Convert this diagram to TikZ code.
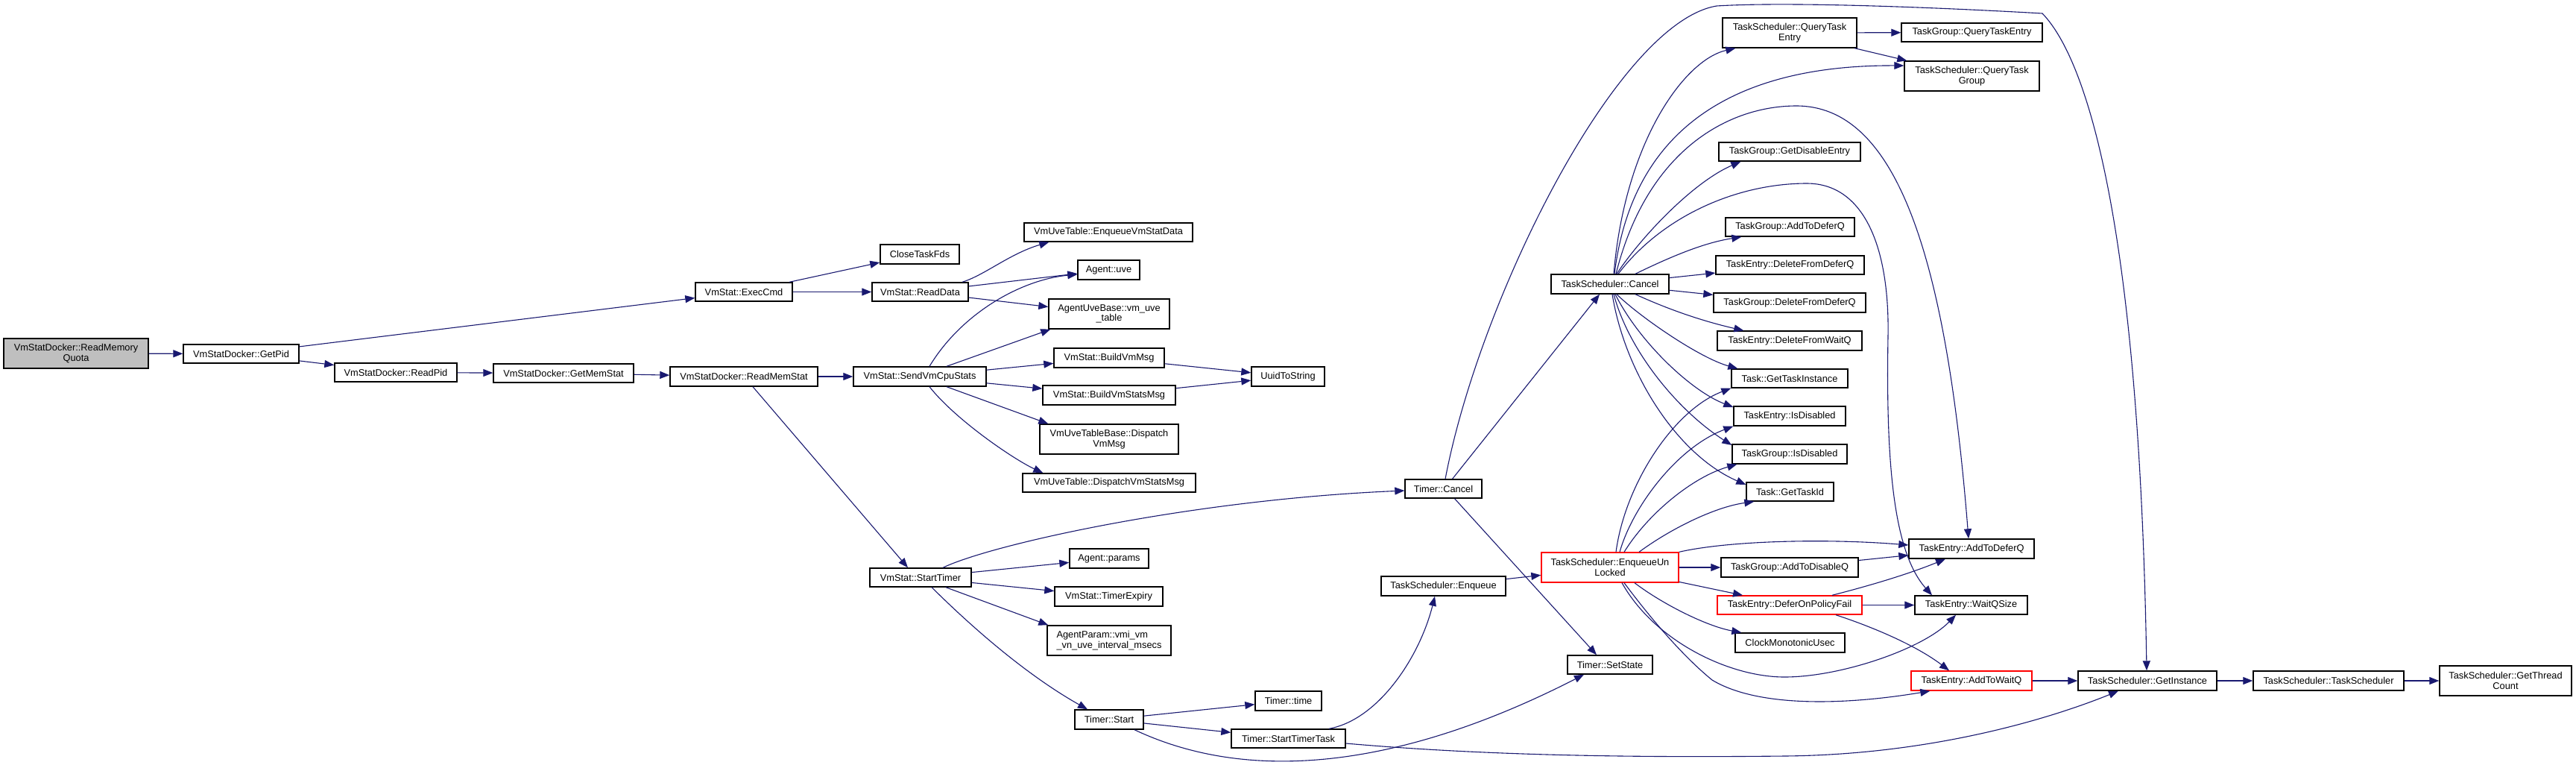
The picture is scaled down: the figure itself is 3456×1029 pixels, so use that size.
\documentclass[tikz,border=0pt]{standalone}
\usepackage{fontspec}
\setmainfont{Liberation Sans}
\usetikzlibrary{arrows.meta,calc}
\definecolor{edgec}{HTML}{191970}
\definecolor{grayfill}{HTML}{BFBFBF}
\newcommand\dxnode[7]{\node[box,#7,minimum width={(#4-#2)*0.5pt},minimum height={(#5-#3)*0.5pt}] (#1) at ({(#2+#4)/2},{(#3+#5)/2}) {#6};}
\begin{document}
\begin{tikzpicture}[x=0.5pt,y=-0.5pt,
  box/.style={draw=black,line width=0.7pt,fill=white,inner sep=0pt,align=center,font=\fontsize{6.4pt}{6.7pt}\selectfont},
  hl/.style={draw=red},
  root/.style={fill=grayfill},
  e/.style={draw=edgec,line width=0.55pt,-{Triangle[length=6.5pt,width=5pt]}}]
\fill[white] (0,0) rectangle (3456,1029);
\useasboundingbox (0,0) rectangle (3456,1029);
% nodes
\dxnode{rmq}{5}{454}{199}{494}{VmStatDocker::ReadMemory\\Quota}{root}
\dxnode{getpid}{246}{462}{401}{487}{VmStatDocker::GetPid}{}
\dxnode{readpid}{449}{487}{613}{512}{VmStatDocker::ReadPid}{}
\dxnode{getmem}{662}{488}{850}{513}{VmStatDocker::GetMemStat}{}
\dxnode{readmem}{899}{492}{1097}{518}{VmStatDocker::ReadMemStat}{}
\dxnode{sendvm}{1145}{492}{1323}{518}{VmStat::SendVmCpuStats}{}
\dxnode{execcmd}{933}{379}{1063}{404}{VmStat::ExecCmd}{}
\dxnode{closefds}{1181}{328}{1287}{354}{CloseTaskFds}{}
\dxnode{readdata}{1170}{379}{1299}{404}{VmStat::ReadData}{}
\dxnode{enqvmstat}{1374}{299}{1600}{324}{VmUveTable::EnqueueVmStatData}{}
\dxnode{agentuve}{1446}{349}{1529}{375}{Agent::uve}{}
\dxnode{uvetable}{1407}{401}{1569}{441}{AgentUveBase::vm\_uve\\\_table}{}
\dxnode{buildvm}{1414}{467}{1562}{493}{VmStat::BuildVmMsg}{}
\dxnode{buildvmstats}{1399}{517}{1577}{543}{VmStat::BuildVmStatsMsg}{}
\dxnode{dispvm}{1395}{569}{1581}{609}{VmUveTableBase::Dispatch\\VmMsg}{}
\dxnode{dispvmstats}{1372}{635}{1604}{660}{VmUveTable::DispatchVmStatsMsg}{}
\dxnode{uuid}{1679}{492}{1777}{518}{UuidToString}{}
\dxnode{starttimer}{1167}{762}{1303}{787}{VmStat::StartTimer}{}
\dxnode{params}{1435}{736}{1541}{762}{Agent::params}{}
\dxnode{timerexp}{1415}{787}{1560}{813}{VmStat::TimerExpiry}{}
\dxnode{agentparam}{1405}{839}{1571}{879}{AgentParam::vmi\_vm\\\_vn\_uve\_interval\_msecs}{align=left}
\dxnode{tstart}{1442}{952}{1534}{978}{Timer::Start}{}
\dxnode{ttime}{1684}{927}{1773}{953}{Timer::time}{}
\dxnode{ttask}{1652}{978}{1805}{1003}{Timer::StartTimerTask}{}
\dxnode{tcancel}{1885}{643}{1988}{668}{Timer::Cancel}{}
\dxnode{tsenq}{1853}{773}{2020}{799}{TaskScheduler::Enqueue}{}
\dxnode{setstate}{2103}{879}{2217}{904}{Timer::SetState}{}
\dxnode{tscancel}{2081}{368}{2239}{394}{TaskScheduler::Cancel}{}
\dxnode{enqunl}{2068}{741}{2252}{781}{TaskScheduler::EnqueueUn\\Locked}{hl}
\dxnode{qte}{2311}{24}{2491}{64}{TaskScheduler::QueryTask\\Entry}{}
\dxnode{tgqte}{2551}{31}{2740}{56}{TaskGroup::QueryTaskEntry}{}
\dxnode{qtg}{2555}{82}{2736}{122}{TaskScheduler::QueryTask\\Group}{}
\dxnode{gde}{2306}{191}{2496}{216}{TaskGroup::GetDisableEntry}{}
\dxnode{tgadq}{2315}{292}{2488}{317}{TaskGroup::AddToDeferQ}{}
\dxnode{tedfdq}{2302}{343}{2501}{368}{TaskEntry::DeleteFromDeferQ}{}
\dxnode{tgdfdq}{2299}{393}{2503}{419}{TaskGroup::DeleteFromDeferQ}{}
\dxnode{tedfwq}{2304}{444}{2498}{470}{TaskEntry::DeleteFromWaitQ}{}
\dxnode{gti}{2323}{495}{2479}{520}{Task::GetTaskInstance}{}
\dxnode{teisd}{2326}{545}{2476}{571}{TaskEntry::IsDisabled}{}
\dxnode{tgisd}{2324}{596}{2478}{622}{TaskGroup::IsDisabled}{}
\dxnode{gtid}{2343}{647}{2460}{672}{Task::GetTaskId}{}
\dxnode{tgadisq}{2309}{748}{2493}{774}{TaskGroup::AddToDisableQ}{}
\dxnode{dopf}{2304}{799}{2498}{824}{TaskEntry::DeferOnPolicyFail}{hl}
\dxnode{cmu}{2328}{849}{2475}{875}{ClockMonotonicUsec}{}
\dxnode{teadq}{2561}{723}{2729}{749}{TaskEntry::AddToDeferQ}{}
\dxnode{wqs}{2569}{799}{2720}{824}{TaskEntry::WaitQSize}{}
\dxnode{adwq}{2564}{900}{2726}{926}{TaskEntry::AddToWaitQ}{hl}
\dxnode{getinst}{2788}{900}{2974}{926}{TaskScheduler::GetInstance}{}
\dxnode{tsts}{3023}{900}{3225}{926}{TaskScheduler::TaskScheduler}{}
\dxnode{gtc}{3273}{893}{3450}{933}{TaskScheduler::GetThread\\Count}{}
% waypoints
\coordinate (v1) at (2394,1014);
\coordinate (c1) at (2303,8);
\coordinate (c2) at (2740,18);
\coordinate (a1) at (2410,142);
\coordinate (a2) at (2424,246);
\coordinate (a3) at (2533,450);
\coordinate (b1) at (2394,908);
\coordinate (b2) at (2297,912);
% edges
\draw[e] (rmq) -- (getpid);
\draw[e] (getpid) -- (execcmd);
\draw[e] (getpid) -- (readpid);
\draw[e] (readpid) -- (getmem);
\draw[e] (getmem) -- (readmem);
\draw[e] (readmem) -- (sendvm);
\draw[e] ($(readmem.south)+(12,0)$) -- ($(starttimer.north)+(-17,0)$);
\draw[e] ($(execcmd.north)+(61,0)$) -- ($(closefds.west)+(0,11)$);
\draw[e] (execcmd) -- (readdata);
\draw[e] ($(readdata.north)+(56.5,0)$) .. controls (1321,369) and (1355,340) .. ($(enqvmstat.south west)+(34,0)$);
\draw[e] (readdata) -- (agentuve);
\draw[e] (readdata) -- (uvetable);
\draw[e] ($(sendvm.north)+(13,0)$) .. controls (1290,420) and (1370,375) .. ($(agentuve.west)+(0,6)$);
\draw[e] ($(sendvm.north)+(36,0)$) -- ($(uvetable.south west)+(3,0)$);
\draw[e] (sendvm) -- (buildvm);
\draw[e] (sendvm) -- (buildvmstats);
\draw[e] ($(sendvm.south)+(36,0)$) -- ($(dispvm.north west)+(12,0)$);
\draw[e] ($(sendvm.south)+(13,0)$) .. controls (1282,563) and (1360,616) .. ($(dispvmstats.north west)+(28,0)$);
\draw[e] (buildvm) -- (uuid);
\draw[e] (buildvmstats) -- (uuid);
\draw[e] ($(starttimer.north)+(30,0)$) .. controls (1330,730) and (1600,670) .. ($(tcancel.west)+(0,2.5)$);
\draw[e] (starttimer) -- (params);
\draw[e] (starttimer) -- (timerexp);
\draw[e] ($(starttimer.south)+(34,0)$) -- ($(agentparam.north west)+(2,0)$);
\draw[e] ($(starttimer.south)+(15,0)$) .. controls (1320,857) and (1389,912) .. ($(tstart.north)+(-29,0)$);
\draw[e] (tstart) -- (ttime);
\draw[e] (tstart) -- (ttask);
\draw[e] ($(tstart.south)+(34,0)$) .. controls (1690,1058) and (1900,1020) .. ($(setstate.south)+(-35,0)$);
\draw[e] ($(ttask.north)+(54.5,0)$) .. controls (1850,965) and (1905,880) .. ($(tsenq.south)+(-11.5,0)$);
\draw[e] ($(ttask.east)+(0,6.5)$) .. controls (2000,1014) and (2200,1016) .. (v1) .. controls (2600,1012) and (2760,960) .. ($(getinst.south)+(-39,0)$);
\draw[e] ($(tcancel.north)+(12,0)$) -- ($(tscancel.south)+(-14,0)$);
\draw[e] ($(tcancel.south)+(15,0)$) -- ($(setstate.north)+(-18,0)$);
\draw[e] ($(tcancel.north)+(2.5,0)$) .. controls (1985,400) and (2170,30) .. (c1) .. controls (2400,2) and (2600,10) .. (c2) .. controls (2800,80) and (2870,300) .. ($(getinst.north)+(-1,0)$);
\draw[e] (tsenq) -- (enqunl);
\draw[e] ($(tscancel.north)+(5,0)$) .. controls (2180,190) and (2260,80) .. ($(qte.south west)+(18,0)$);
\draw[e] ($(tscancel.north)+(6,0)$) .. controls (2190,170) and (2330,87) .. ($(qtg.west)+(0,-14)$);
\draw[e] ($(tscancel.north)+(9,0)$) .. controls (2200,320) and (2270,245) .. ($(gde.south west)+(30,0)$);
\draw[e] ($(tscancel.north)+(34,0)$) .. controls (2250,340) and (2290,325) .. ($(tgadq.south west)+(22,0)$);
\draw[e] (tscancel) -- (tedfdq);
\draw[e] (tscancel) -- (tgdfdq);
\draw[e] ($(tscancel.south)+(34,0)$) .. controls (2245,418) and (2290,432) .. ($(tedfwq.north west)+(36,0)$);
\draw[e] ($(tscancel.south)+(9,0)$) .. controls (2200,425) and (2280,480) .. ($(gti.north west)+(9,0)$);
\draw[e] ($(tscancel.south)+(7,0)$) .. controls (2200,460) and (2270,525) .. ($(teisd.west)+(0,-12)$);
\draw[e] ($(tscancel.south)+(5,0)$) .. controls (2185,470) and (2250,550) .. ($(tgisd.west)+(0,-12)$);
\draw[e] ($(tscancel.south)+(3,0)$) .. controls (2180,500) and (2250,610) .. ($(gtid.west)+(0,-9.5)$);
\draw[e] ($(tscancel.north)+(8,0)$) .. controls (2210,200) and (2320,142) .. (a1) .. controls (2540,142) and (2610,330) .. ($(teadq.north)+(-4,0)$);
\draw[e] ($(tscancel.north)+(11,0)$) .. controls (2230,290) and (2330,246) .. (a2) .. controls (2500,246) and (2535,330) .. (a3) .. controls (2530,620) and (2540,740) .. ($(wqs.north)+(-52.5,0)$);
\draw[e] (qte) -- (tgqte);
\draw[e] (qte) -- (qtg);
\draw[e] ($(enqunl.north)+(8,0)$) .. controls (2180,650) and (2245,550) .. (gti.south west);
\draw[e] ($(enqunl.north)+(13,0)$) .. controls (2190,680) and (2250,600) .. (teisd.south west);
\draw[e] ($(enqunl.north)+(19,0)$) .. controls (2210,690) and (2270,640) .. ($(tgisd.south west)+(7,0)$);
\draw[e] ($(enqunl.north)+(39,0)$) .. controls (2240,710) and (2300,680) .. ($(gtid.south west)+(11,0)$);
\draw[e] (enqunl.north east) .. controls (2320,725) and (2450,722) .. ($(teadq.west)+(0,-5)$);
\draw[e] (enqunl) -- (tgadisq);
\draw[e] (enqunl) -- (dopf);
\draw[e] ($(enqunl.south)+(33,0)$) .. controls (2230,810) and (2290,840) .. ($(cmu.north west)+(9,0)$);
\draw[e] ($(enqunl.south)+(16,0)$) .. controls (2220,860) and (2320,908) .. (b1) .. controls (2470,908) and (2580,870) .. ($(wqs.south)+(-20.5,0)$);
\draw[e] ($(enqunl.south)+(19,0)$) .. controls (2230,850) and (2270,890) .. (b2) .. controls (2360,950) and (2480,945) .. ($(adwq.south west)+(26,0)$);
\draw[e] (tgadisq) -- (teadq);
\draw[e] ($(dopf.north)+(57,0)$) .. controls (2510,785) and (2560,770) .. ($(teadq.south)+(-35,0)$);
\draw[e] (dopf) -- (wqs);
\draw[e] ($(dopf.south)+(62,0)$) .. controls (2510,840) and (2570,865) .. ($(adwq.north)+(-30,0)$);
\draw[e] (adwq) -- (getinst);
\draw[e] (getinst) -- (tsts);
\draw[e] (tsts) -- (gtc);
\end{tikzpicture}
\end{document}
